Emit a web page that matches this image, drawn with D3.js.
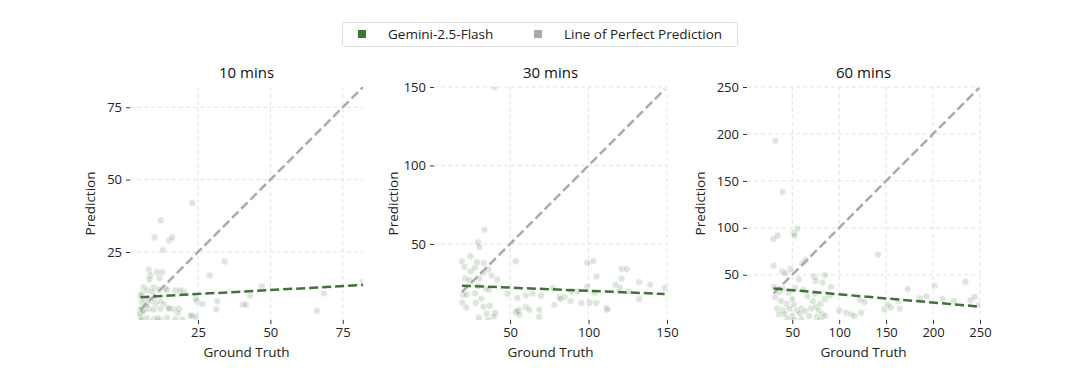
<!DOCTYPE html>
<head>
  <meta charset="utf-8">
  <script src="https://d3js.org/d3.v7.min.js"></script>
  <style>
    body { margin: 0; background: #fff; }
    * { font-family: "Open Sans", sans-serif; }
  </style>
</head>
<body>
  <svg width="1080" height="383"></svg>
  <script>
    // series: [ground truth, prediction]
    const titles = ["10 mins", "30 mins", "60 mins"];
    const legendLabels = ["Gemini-2.5-Flash", "Line of Perfect Prediction"];

    const pts10 = [
      [23,41.9],[12.1,35.9],[10,30],[15,29],[16.1,30],[12.9,25.7],[34.2,21.7],[29,16.9],
      [8,18.9],[8.5,17],[10.8,18],[12.6,18],[8.2,15.5],[11.7,15.9],
      [6.2,12.8],[9.7,12.8],[7.4,11.7],[9.1,11.3],[11.4,12],[13.7,12.5],[17.2,11.7],[20.1,11.3],
      [5.1,9.7],[6.6,8.8],[5.6,7.6],[7.4,7],[8.5,8.2],[9.7,8.8],[10.3,7],[12,7.9],
      [5.1,5.3],[6.2,5],[8,5.3],[9.7,5.1],[12,5.3],[14.9,5.5],[16.6,5.2],[18.4,5.4],
      [5.1,2.5],[5.6,1.6],[7.4,2.2],[9.7,1.8],[12,1.5],[14.3,2.3],[17.2,1.8],[19.6,1.6],[23,2.9],[24.2,2.6],
      [24.7,7.9],[31.3,5.1],[26.5,7],[31.7,8],[40.4,6.8],[41.5,6.8],[43,9.9],[47,13.1],[68.5,10.7],[66.1,4.7],[82,14.8],
      [18.8,11.7],[14.2,11.9],[24.2,8.8],[22.5,3],[18.1,3.9],[15,5.5],[13.3,7],[5,3.8],[5.5,10.5],[7,6.5],[6,4.5],[11,2.1]
    ];
    const pts30 = [
      [40,150],[33.7,59.1],[29.6,51],[30.5,48.1],[53.6,38.9],[19.3,38.9],[24.7,42.1],[28.9,38.3],[33.3,37.9],
      [20.8,35.3],[24.9,32.5],[27.6,34.7],[32.9,31.5],[36.1,33.6],[38.2,29.8],
      [21.4,28],[24,27],[30.2,28],[41.8,27.2],[29.6,23],[34.5,21.5],[36.5,20.8],
      [20.1,17.6],[22.2,17.6],[27.6,18.5],[31.6,15],[19.5,12.5],[22,9.5],[28,12.5],[33,10],[37,10.5],[40.5,6],[35,5.5],
      [48.3,18.3],[54.7,15.5],[55.8,8],[53.6,6.6],[54.7,7],[60,9.8],[55.8,4.9],[62.2,8],[68.6,8],[68.6,3.4],[39.7,3.8],[36,1.5],[30,3],
      [60,17],[64.3,18.3],[69.7,17],[77.2,21.9],[81.5,16.2],[78.3,11.2],[84.7,16.2],
      [99.2,37.9],[102.9,38.9],[105,29.3],[121.1,34],[124.3,34],[121.1,27.7],[117.2,24],[120,21.9],[125.4,19.7],[132.3,25.7],[139.3,24],[148.5,21.9],[132.3,14.9],
      [99.2,22.9],[104,18.7],[93.3,19.7],[89,19.7],[82,15],[88.5,13.5],[95.4,12.3],[100.8,12.7],[105,12.3],[111.4,9.1],[112,8]
    ];
    const pts60 = [
      [32,192.7],[39.9,138.3],[30.2,88.3],[34.5,91.8],[51.7,94.3],[52.5,91.8],[55.4,99],[30.2,59.7],[39.2,53.5],[42.8,51.4],[60.8,62.1],[64.3,65.8],[84.7,49.7],[141.4,71.5],
      [73.2,47.9],[75,43.6],[82.3,41.7],[91.2,37.1],
      [30.5,37],[36,32],[40,35],[46,31],[53,36],[32,26],[38,22],[44,19],[50,24],[52,18],[34,14],[40,12],[47,14],[55,12],[60,14],[36,8],[42,8],[50,6],[58,9],[64,11],[70,14],[75,16],[80,19],[78,12],[72,22],[66,27],[85,24],[90,28],[68,6],[76,5],[82,8],[74,30],[62,34],[57,45],[48,56],
      [107.3,9.5],[112.7,7.8],[123.4,9.5],[122.4,23.2],[127,21],[116.2,6],[155,15],[152,18],[148,13],[162.9,22],[164.6,13.8],[172.9,34.7],[186,25],[193,27],[201.6,38.2],[210,24],[222,22],[234.5,42.5],[239.9,22.9],[244.6,26.4],[249,18],[100,12],[85,6],[45,3],[60,3],[80,2],[52,1.8]
    ];

    // fitted trend line end points [ground truth, prediction]
    const trend10 = [[5.1, 9.4], [82, 13.6]];
    const trend30 = [[19.3, 23.4], [148.5, 18.1]];
    const trend60 = [[30.2, 35.3], [250, 16]];

    const ticks10 = [25, 50, 75];
    const ticks30 = [50, 100, 150];
    const ticks60 = [50, 100, 150, 200, 250];

    const green = "#3e7236";
    const grey = "#aaaaaa";

    const svg = d3.select("svg");

    const panels = [
      { title: titles[0], pts: pts10, trend: trend10, ticks: ticks10 },
      { title: titles[1], pts: pts30, trend: trend30, ticks: ticks30 },
      { title: titles[2], pts: pts60, trend: trend60, ticks: ticks60 }
    ];

    const lefts = [130, 434, 747];
    const pw = 233, plotTop = 87, plotBottom = 320;

    panels.forEach((p, i) => {
      const all = p.pts.flat().concat(p.trend.flat());
      const lo = d3.min(all), hi = d3.max(all);
      const x = d3.scaleLinear().domain([lo, hi]).range([lefts[i], lefts[i] + pw]);
      const y = d3.scaleLinear().domain([lo, hi]).range([plotBottom, plotTop]);
      const g = svg.append("g");

      g.append("clipPath").attr("id", "clip" + i)
        .append("rect")
        .attr("x", lefts[i]).attr("y", plotTop).attr("width", pw).attr("height", plotBottom - plotTop);

      // grid
      g.append("g").selectAll("line").data(p.ticks).join("line")
        .attr("x1", d => x(d)).attr("x2", d => x(d))
        .attr("y1", plotTop).attr("y2", plotBottom)
        .attr("stroke", "#e3e3e3").attr("stroke-dasharray", "4,3");
      g.append("g").selectAll("line").data(p.ticks).join("line")
        .attr("x1", lefts[i]).attr("x2", lefts[i] + pw)
        .attr("y1", d => y(d)).attr("y2", d => y(d))
        .attr("stroke", "#e3e3e3").attr("stroke-dasharray", "4,3");

      // axes
      const xa = g.append("g").attr("transform", `translate(0,${plotBottom})`)
        .call(d3.axisBottom(x).tickValues(p.ticks).tickSize(4).tickPadding(4));
      const ya = g.append("g").attr("transform", `translate(${lefts[i]},0)`)
        .call(d3.axisLeft(y).tickValues(p.ticks).tickSize(4).tickPadding(4));
      [xa, ya].forEach(a => {
        a.select(".domain").remove();
        a.selectAll("line").attr("stroke", "#333").attr("stroke-width", 1);
        a.selectAll("text").attr("fill", "#222").style("font-size", "13px");
      });

      const body = g.append("g").attr("clip-path", `url(#clip${i})`);

      body.selectAll("circle").data(p.pts).join("circle")
        .attr("cx", d => x(d[0])).attr("cy", d => y(d[1]))
        .attr("r", 3.4)
        .attr("fill", green).attr("fill-opacity", 0.18)
        .attr("stroke", "#fff").attr("stroke-width", 0.5);

      const gt = p.pts.map(d => d[0]);
      const diag = [d3.min(gt), d3.max(gt)];
      body.append("line")
        .attr("x1", x(diag[0])).attr("y1", y(diag[0]))
        .attr("x2", x(diag[1])).attr("y2", y(diag[1]))
        .attr("stroke", grey).attr("stroke-width", 2.5)
        .attr("stroke-dasharray", "9,4");

      body.append("path")
        .datum(p.trend)
        .attr("d", d3.line().x(d => x(d[0])).y(d => y(d[1])))
        .attr("stroke", green).attr("stroke-width", 2.5)
        .attr("stroke-dasharray", "9,4").attr("fill", "none");

      const cx = lefts[i] + pw / 2;
      g.append("text").attr("x", cx).attr("y", 78)
        .attr("text-anchor", "middle").style("font-size", "15px").style("font-weight", 500)
        .attr("fill", "#111").text(p.title);
      g.append("text").attr("x", cx).attr("y", 357)
        .attr("text-anchor", "middle").style("font-size", "13.5px")
        .attr("fill", "#222").text("Ground Truth");
      const lx = [90, 393, 700][i];
      g.append("text")
        .attr("transform", `translate(${lx},${(plotTop + plotBottom) / 2}) rotate(-90)`)
        .attr("text-anchor", "middle").attr("dy", "0.35em").style("font-size", "13.5px")
        .attr("fill", "#222").text("Prediction");
    });

    // legend
    const lg = svg.append("g");
    lg.append("rect").attr("x", 342.5).attr("y", 22.5).attr("width", 395).attr("height", 24)
      .attr("rx", 3).attr("fill", "#fff").attr("stroke", "#dcdcdc");
    const lcols = [green, grey];
    const lxs = [362, 538];
    legendLabels.forEach((t, k) => {
      lg.append("rect").attr("x", lxs[k] - 4).attr("y", 30).attr("width", 8).attr("height", 8)
        .attr("fill", lcols[k]);
      lg.append("text").attr("x", lxs[k] + 26).attr("y", 34).attr("dy", "0.35em")
        .style("font-size", "13.5px").attr("fill", "#222").text(t);
    });
  </script>
</body>
